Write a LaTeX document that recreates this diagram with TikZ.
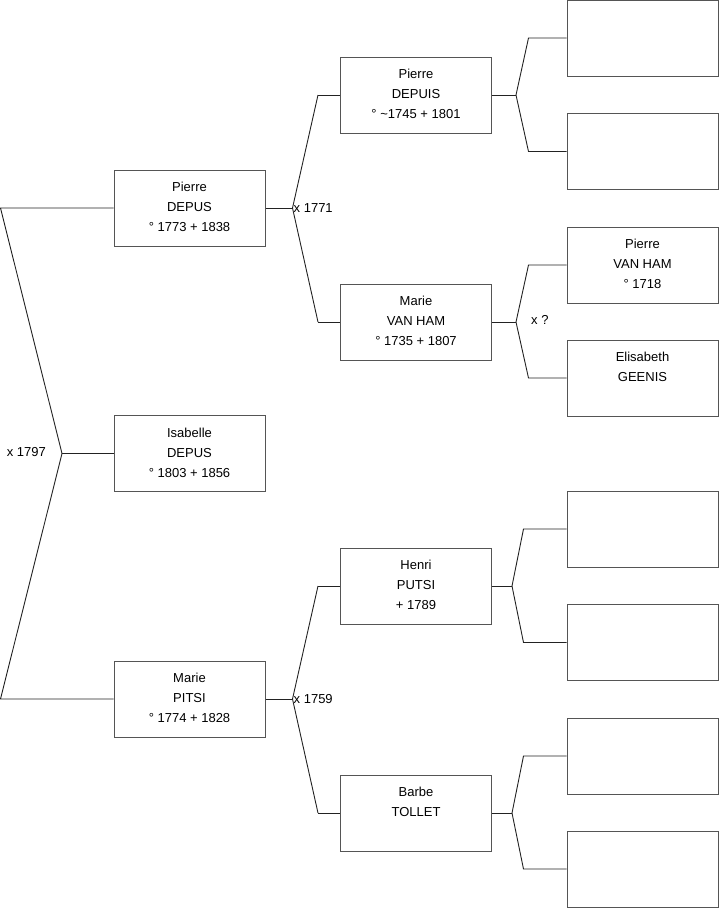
\documentclass[tikz,border=0pt]{standalone}
\usepackage{fontspec}
\setmainfont{Liberation Sans}
\usepackage{tikz}
\definecolor{BoxGray}{HTML}{555555}
\definecolor{LineBlack}{HTML}{222222}
\newcommand{\who}[1]{\parbox[t]{151pt}{\centering #1}}
\begin{document}
\begin{tikzpicture}[
x=1pt,y=-1pt,
font=\fontsize{13}{20}\selectfont,
person/.style={draw=BoxGray,line width=1pt,minimum width=151pt,inner xsep=0pt,inner ysep=0pt,text height=21.5pt,text depth=54.5pt},
link/.style={draw=LineBlack,line width=0.9pt},
mariage/.style={inner sep=1pt}
]
\useasboundingbox (0,0) rectangle (719,908);
% generation 1
\node[person] (pDepus) at (189.5,208) {\who{Pierre\\DEPUS\\° 1773 + 1838}};
\node[person] (iDepus) at (189.5,453.5) {\who{Isabelle\\DEPUS\\° 1803 + 1856}};
\node[person] (mPitsi) at (189.5,699) {\who{Marie\\PITSI\\° 1774 + 1828}};
% generation 2
\node[person] (pDepuis) at (416,95) {\who{Pierre\\DEPUIS\\° \textasciitilde1745 + 1801}};
\node[person] (mVanham) at (416,322) {\who{Marie\\VAN HAM\\° 1735 + 1807}};
\node[person] (hPutsi) at (416,586) {\who{Henri\\PUTSI\\+ 1789}};
\node[person] (bTollet) at (416,813) {\who{Barbe\\TOLLET}};
% generation 3
\node[person] (gp1) at (642.5,38) {};
\node[person] (gp2) at (642.5,151.5) {};
\node[person] (pVanham) at (642.5,265) {\who{Pierre\\VAN HAM\\° 1718}};
\node[person] (eGeenis) at (642.5,378) {\who{Elisabeth\\GEENIS}};
\node[person] (gp5) at (642.5,529) {};
\node[person] (gp6) at (642.5,642.5) {};
\node[person] (gp7) at (642.5,756) {};
\node[person] (gp8) at (642.5,869) {};
% brackets
\coordinate (f0) at (62,453.5);
\draw[link] (pDepus.west) -- ++(-113,0) -- (f0) -- ([xshift=-113pt]mPitsi.west) -- (mPitsi.west);
\draw[link] (f0) -- (iDepus.west);
\node[mariage,anchor=east] (m0) at ([xshift=-15pt,yshift=1pt]f0) {x 1797};

\draw[link] (pDepus.east) -- ++(27,0) coordinate (f1);
\draw[link] ([xshift=-22pt]pDepuis.west) -- (f1) -- ([xshift=-22pt]mVanham.west);
\draw[link] ([xshift=-22pt]pDepuis.west) -- (pDepuis.west);
\draw[link] ([xshift=-22pt]mVanham.west) -- (mVanham.west);
\node[mariage,anchor=west] (m1) at (f1) {x 1771};

\draw[link] (mPitsi.east) -- ++(27,0) coordinate (f2);
\draw[link] ([xshift=-22pt]hPutsi.west) -- (f2) -- ([xshift=-22pt]bTollet.west);
\draw[link] ([xshift=-22pt]hPutsi.west) -- (hPutsi.west);
\draw[link] ([xshift=-22pt]bTollet.west) -- (bTollet.west);
\node[mariage,anchor=west] (m2) at (f2) {x 1759};

\draw[link] (pDepuis.east) -- ++(24,0) coordinate (f3);
\draw[link] (gp1.west) -- ++(-38,0) -- (f3) -- ([xshift=-38pt]gp2.west) -- (gp2.west);

\draw[link] (mVanham.east) -- ++(24,0) coordinate (f4);
\draw[link] (pVanham.west) -- ++(-38,0) -- (f4) -- ([xshift=-38pt]eGeenis.west) -- (eGeenis.west);
\node[mariage,anchor=west] (m4) at ([xshift=14pt,yshift=2pt]f4) {x ?};

\draw[link] (hPutsi.east) -- ++(20,0) coordinate (f5);
\draw[link] (gp5.west) -- ++(-43,0) -- (f5) -- ([xshift=-43pt]gp6.west) -- (gp6.west);

\draw[link] (bTollet.east) -- ++(20,0) coordinate (f6);
\draw[link] (gp7.west) -- ++(-43,0) -- (f6) -- ([xshift=-43pt]gp8.west) -- (gp8.west);
\end{tikzpicture}
\end{document}
